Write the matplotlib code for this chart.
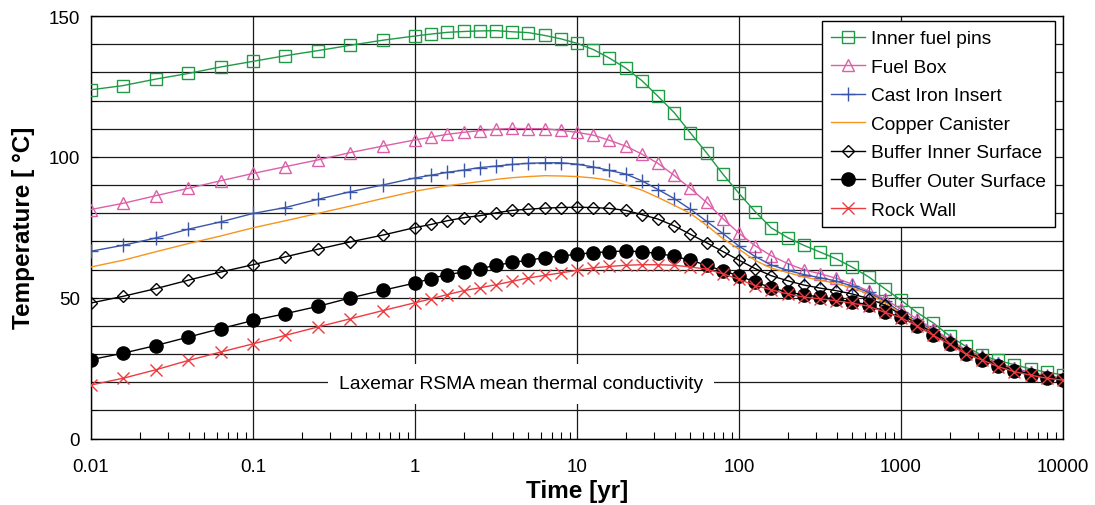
import matplotlib
matplotlib.use("Agg")
import matplotlib.pyplot as plt
from matplotlib.ticker import FixedLocator, MultipleLocator, LogLocator, NullFormatter

plt.rcParams['font.family'] = ['Liberation Sans', 'DejaVu Sans']

time_yr = [0.01, 0.0158, 0.0251, 0.0398, 0.0631, 0.1, 0.158, 0.251, 0.398, 0.631, 1,
           1.26, 1.58, 2.0, 2.51, 3.16, 3.98, 5.01, 6.31, 7.94, 10,
           12.6, 15.8, 20.0, 25.1, 31.6, 39.8, 50.1, 63.1, 79.4, 100,
           126, 158, 200, 251, 316, 398, 501, 631, 794, 1000,
           1259, 1585, 1995, 2512, 3162, 3981, 5012, 6310, 7943, 10000]

inner_fuel_pins = [123.8, 125.3, 127.6, 129.6, 131.9, 133.9, 135.9, 137.7, 139.6, 141.4, 142.9,
                   143.6, 144.2, 144.5, 144.7, 144.8, 144.4, 144.1, 143.1, 141.9, 140.3,
                   138.1, 135.1, 131.5, 127.1, 121.5, 115.7, 108.5, 101.4, 93.9, 87.0,
                   80.5, 74.8, 71.3, 68.6, 66.2, 63.8, 60.8, 57.4, 53.2, 49.1,
                   44.7, 41.0, 36.4, 32.7, 29.5, 27.7, 26.2, 24.7, 23.5, 22.6]
fuel_box = [81.3, 83.5, 86.2, 88.8, 91.5, 94.1, 96.5, 98.9, 101.5, 103.8, 106.0,
            107.0, 108.0, 108.7, 109.3, 109.8, 110.1, 110.0, 110.0, 109.4, 108.7,
            107.7, 105.9, 103.8, 101.0, 97.7, 93.4, 88.8, 83.8, 78.1, 72.9,
            68.4, 64.9, 62.1, 59.9, 58.5, 56.9, 54.8, 52.4, 49.4, 46.0,
            42.4, 38.8, 35.2, 31.5, 29.2, 26.8, 24.9, 23.5, 22.3, 21.5]
cast_iron = [66.5, 68.6, 71.2, 74.3, 76.9, 79.9, 82.0, 84.9, 87.6, 90.0, 92.5,
             93.5, 94.5, 95.3, 96.2, 96.7, 97.3, 97.7, 97.9, 97.9, 97.4,
             96.4, 95.2, 93.9, 91.5, 88.4, 85.2, 81.4, 77.1, 72.8, 68.3,
             64.6, 61.6, 59.7, 58.2, 57.1, 55.9, 54.1, 51.9, 48.8, 44.8,
             41.6, 38.2, 34.7, 31.1, 28.9, 26.5, 24.6, 23.2, 22.1, 21.3]
copper_canister = [60.9, 63.3, 66.3, 69.2, 71.9, 74.8, 77.3, 79.9, 82.5, 85.2, 87.8,
                   88.8, 89.7, 90.5, 91.2, 92.0, 92.6, 93.0, 93.3, 93.2, 93.0,
                   92.5, 91.7, 90.0, 88.2, 85.6, 82.8, 79.9, 75.7, 71.0, 67.2,
                   63.2, 60.5, 58.9, 57.4, 56.2, 55.1, 53.4, 51.3, 48.2, 44.4,
                   41.2, 37.9, 34.5, 30.9, 28.7, 26.3, 24.4, 23.1, 22.0, 21.2]
buffer_inner = [48.1, 50.5, 53.2, 56.2, 59.1, 61.7, 64.5, 67.2, 69.8, 72.2, 74.9,
                76.0, 77.3, 78.4, 79.1, 80.1, 81.0, 81.4, 81.8, 82.0, 82.1,
                82.0, 81.7, 81.0, 79.5, 77.9, 75.5, 72.5, 69.5, 66.4, 63.3,
                60.3, 57.8, 56.0, 54.5, 53.4, 52.5, 51.3, 49.7, 47.4, 44.0,
                40.8, 37.5, 34.2, 30.7, 28.5, 26.1, 24.2, 22.9, 21.8, 21.0]
buffer_outer = [28.0, 30.3, 33.0, 36.0, 39.0, 41.9, 44.3, 46.9, 49.9, 52.6, 55.2,
                56.8, 58.2, 59.1, 60.3, 61.5, 62.5, 63.3, 64.2, 64.8, 65.4,
                66.0, 66.3, 66.6, 66.3, 65.7, 64.7, 63.3, 61.5, 59.5, 57.8,
                55.5, 53.6, 51.9, 51.1, 50.2, 49.4, 48.5, 47.5, 45.0, 43.1,
                40.1, 36.8, 33.6, 30.1, 28.0, 25.6, 23.8, 22.6, 21.5, 20.8]
rock_wall = [19.0, 21.4, 24.4, 27.7, 30.7, 33.6, 36.6, 39.6, 42.5, 45.4, 48.2,
             49.6, 51.1, 52.5, 53.5, 54.6, 55.8, 57.0, 57.9, 58.8, 59.7,
             60.6, 61.1, 61.5, 61.7, 61.7, 61.5, 60.9, 60.1, 58.5, 56.5,
             54.3, 52.8, 51.3, 50.2, 49.6, 48.9, 48.0, 47.0, 44.8, 42.9,
             39.9, 36.6, 33.4, 30.0, 27.9, 25.5, 23.7, 22.5, 21.4, 20.7]

x_tick_labels = ['0.01', '0.1', '1', '10', '100', '1000', '10000']

fig = plt.figure(figsize=(10.95, 5.06), dpi=100)
ax = fig.add_axes([0.0831, 0.1314, 0.8877, 0.835])

ax.set_xscale('log')
ax.set_xlim(0.01, 10000)
ax.set_ylim(0, 150)

ax.plot(time_yr, inner_fuel_pins, color='#1f9a45', lw=1.0, marker='s', ms=9,
        mfc='none', mec='#1f9a45', mew=1.0, label='Inner fuel pins', zorder=5)
ax.plot(time_yr, fuel_box, color='#dc5fa8', lw=1.0, marker='^', ms=9,
        mfc='none', mec='#dc5fa8', mew=1.0, label='Fuel Box', zorder=5)
ax.plot(time_yr, cast_iron, color='#3b56a8', lw=1.0, marker='+', ms=10,
        mec='#3b56a8', mew=1.0, label='Cast Iron Insert', zorder=5)
ax.plot(time_yr, copper_canister, color='#f7941d', lw=1.0,
        label='Copper Canister', zorder=5)
ax.plot(time_yr, buffer_inner, color='black', lw=1.0, marker='D', ms=6.5,
        mfc='none', mec='black', mew=1.0, label='Buffer Inner Surface', zorder=5)
ax.plot(time_yr, buffer_outer, color='black', lw=1.0, marker='o', ms=9.5,
        mfc='black', mec='black', label='Buffer Outer Surface', zorder=5)
ax.plot(time_yr, rock_wall, color='#ee3b40', lw=1.0, marker='x', ms=8,
        mec='#ee3b40', mew=1.0, label='Rock Wall', zorder=6)

# ticks and grid
ax.yaxis.set_major_locator(FixedLocator([0, 50, 100, 150]))
ax.yaxis.set_minor_locator(MultipleLocator(10))
ax.xaxis.set_major_locator(FixedLocator([0.01, 0.1, 1, 10, 100, 1000, 10000]))
ax.set_xticklabels(x_tick_labels)
ax.xaxis.set_minor_locator(LogLocator(base=10, subs=range(2, 10), numticks=20))
ax.xaxis.set_minor_formatter(NullFormatter())
ax.tick_params(axis='both', which='both', direction='in', labelsize=13.5, colors='black')
ax.tick_params(axis='x', which='major', length=0, pad=14)
ax.tick_params(axis='x', which='minor', length=5, width=0.8)
ax.tick_params(axis='y', which='both', length=5, pad=8)
ax.grid(True, which='major', axis='x', color='#1a1a1a', lw=0.9)
ax.grid(True, which='both', axis='y', color='#1a1a1a', lw=0.9)
ax.set_axisbelow(True)
for s in ax.spines.values():
    s.set_color('black')
    s.set_linewidth(1.0)

ax.set_xlabel('Time [yr]', fontsize=17.5, fontweight='bold', labelpad=3)
ax.set_ylabel('Temperature [ °C]', fontsize=17.5, fontweight='bold', labelpad=10)

ax.text(4.5, 19.4, 'Laxemar RSMA mean thermal conductivity', fontsize=13.9,
        ha='center', va='center', zorder=4,
        bbox=dict(facecolor='white', edgecolor='none', pad=8))

leg = ax.legend(loc='upper right', bbox_to_anchor=(0.9915, 0.988), fontsize=13.8,
                frameon=True, fancybox=False, edgecolor='black', framealpha=1,
                handlelength=1.8, handletextpad=0.3, labelspacing=0.58,
                borderpad=0.46, borderaxespad=0)
leg.get_frame().set_linewidth(1.0)
leg.set_zorder(10)

fig.savefig('out.png', dpi=100)
